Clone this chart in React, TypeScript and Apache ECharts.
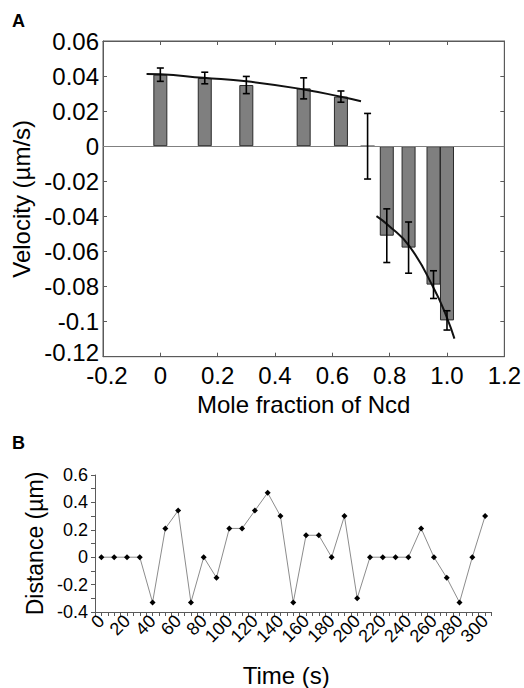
import React, { useEffect, useRef } from "react";
import * as echarts from "echarts";

// Panel A data
const moleFraction = [0, 0.155, 0.3, 0.5, 0.63, 0.723, 0.79, 0.866, 0.953, 1.0];
const velocity = [0.0408, 0.0389, 0.0349, 0.033, 0.0283, 0, -0.051, -0.0578, -0.0789, -0.0993];
const velocityErr = [0.0038, 0.0033, 0.0049, 0.006, 0.0032, 0.0187, 0.0153, 0.0146, 0.0079, 0.0055];
const fitLowX = [-0.048, 0, 0.15, 0.3, 0.5, 0.63, 0.7];
const fitLowY = [0.0412, 0.041, 0.039, 0.037, 0.0324, 0.0282, 0.0257];
const fitHighX = [0.754, 0.795, 0.87, 0.956, 1.0, 1.026];
const fitHighY = [-0.0398, -0.045, -0.0572, -0.0817, -0.0978, -0.1097];

// Panel B data
const times = [0, 10, 20, 30, 40, 50, 60, 70, 80, 90, 100, 110, 120, 130, 140, 150, 160, 170, 180, 190, 200, 210, 220, 230, 240, 250, 260, 270, 280, 290, 300];
const distance = [0, 0, 0, 0, -0.33, 0.21, 0.34, -0.33, 0, -0.15, 0.21, 0.21, 0.34, 0.47, 0.3, -0.33, 0.16, 0.16, 0, 0.3, -0.3, 0, 0, 0, 0, 0.21, 0, -0.15, -0.33, 0, 0.3];

const FONT = "'Liberation Sans', Arial, sans-serif";
const AXIS_COLOR = "#5a5a5a";

export default function App() {
  const ref = useRef<HTMLDivElement>(null);
  useEffect(() => {
    if (!ref.current) return;
    const chart = echarts.init(ref.current, undefined, { renderer: "svg" });
    const barData = moleFraction.map((x, i) => [x, velocity[i]]);
    const errData = moleFraction.map((x, i) => [x, velocity[i], velocityErr[i]]);
    const fitLow = fitLowX.map((x, i) => [x, fitLowY[i]]);
    const fitHigh = fitHighX.map((x, i) => [x, fitHighY[i]]);
    const lineData = times.map((t, i) => [t, distance[i]]);

    const axisLineA = { show: true, onZero: false, lineStyle: { color: AXIS_COLOR, width: 1 } };
    const tickA = { show: true, inside: true, length: 4, lineStyle: { color: AXIS_COLOR } };

    chart.setOption({
      animation: false,
      textStyle: { fontFamily: FONT },
      grid: [
        { left: 103, top: 41, width: 404, height: 315.7, show: true, borderColor: AXIS_COLOR, borderWidth: 1 },
        { left: 95, top: 475, width: 396.5, height: 137.7 },
      ],
      graphic: [
        { type: "text", left: 12, top: 12, style: { text: "A", font: `bold 18px ${FONT}`, fill: "#000" } },
        { type: "text", left: 12, top: 434, style: { text: "B", font: `bold 18px ${FONT}`, fill: "#000" } },
      ],
      xAxis: [
        {
          type: "value", gridIndex: 0, min: -0.2, max: 1.2, interval: 0.2,
          axisLine: axisLineA, axisTick: tickA, splitLine: { show: false },
          axisLabel: {
            color: "#000", fontSize: 24, fontFamily: FONT, margin: 7,
            formatter: (v: number) => {
              if (Math.abs(v) < 1e-9) return "0";
              if (v < 0) return "{l|" + v.toFixed(1) + "}";
              return v.toFixed(1);
            },
            rich: { l: { fontSize: 24, fontFamily: FONT, color: "#000", padding: [0, 0, 0, 8] } },
          },
          name: "Mole fraction of Ncd", nameLocation: "middle", nameGap: 36,
          nameTextStyle: { color: "#000", fontSize: 24, fontFamily: FONT },
        },
        {
          type: "value", gridIndex: 0, position: "top", min: -0.2, max: 1.2, interval: 0.2,
          axisLine: axisLineA, axisTick: tickA, axisLabel: { show: false }, splitLine: { show: false },
        },
        {
          type: "value", gridIndex: 1, min: -5, max: 305, interval: 5,
          axisLine: { show: true, onZero: false, lineStyle: { color: AXIS_COLOR } },
          axisTick: { show: true, length: 4, lineStyle: { color: AXIS_COLOR } },
          splitLine: { show: false },
          axisLabel: {
            color: "#000", fontSize: 18, fontFamily: FONT, rotate: 45, margin: 6,
            showMinLabel: true, showMaxLabel: true,
            formatter: (v: number) => {
              const r = Math.round(v);
              return r >= 0 && r % 20 === 0 ? String(r) : "";
            },
          },
          name: "Time (s)", nameLocation: "middle", nameGap: 51,
          nameTextStyle: { color: "#000", fontSize: 24, fontFamily: FONT, padding: [0, 14, 0, 0] },
        },
      ],
      yAxis: [
        {
          type: "value", gridIndex: 0, min: -0.12, max: 0.06, interval: 0.02,
          axisLine: axisLineA, axisTick: tickA, splitLine: { show: false },
          axisLabel: {
            color: "#000", fontSize: 24, fontFamily: FONT, margin: 4,
            formatter: (v: number) => (v < -0.115 ? "{m|" + v + "}" : String(v)),
            rich: { m: { fontSize: 24, fontFamily: FONT, color: "#000", padding: [0, 0, 8, 0] } },
          },
          name: "Velocity (µm/s)", nameLocation: "middle", nameGap: 68,
          nameTextStyle: { color: "#000", fontSize: 24, fontFamily: FONT },
        },
        {
          type: "value", gridIndex: 0, position: "right", min: -0.12, max: 0.06, interval: 0.02,
          axisLine: axisLineA, axisTick: tickA, axisLabel: { show: false }, splitLine: { show: false },
        },
        {
          type: "value", gridIndex: 1, min: -0.4, max: 0.6, interval: 0.2,
          axisLine: { show: true, onZero: false, lineStyle: { color: AXIS_COLOR } },
          axisTick: { show: true, length: 4, lineStyle: { color: AXIS_COLOR } },
          minorTick: { show: true, splitNumber: 2, length: 4, lineStyle: { color: AXIS_COLOR } },
          splitLine: { show: false },
          axisLabel: { color: "#000", fontSize: 18, fontFamily: FONT, margin: 7 },
          name: "Distance (µm)", nameLocation: "middle", nameGap: 48,
          nameTextStyle: { color: "#000", fontSize: 23, fontFamily: FONT },
        },
      ],
      series: [
        {
          type: "bar", xAxisIndex: 0, yAxisIndex: 0, data: barData, barWidth: 14,
          itemStyle: { color: "#7f7f7f", borderColor: "#2a2a2a", borderWidth: 1 },
          markLine: {
            silent: true, symbol: "none", label: { show: false },
            lineStyle: { color: "#808080", width: 1, type: "solid" },
            data: [{ yAxis: 0 }],
          },
        },
        {
          type: "line", xAxisIndex: 0, yAxisIndex: 0, data: fitLow, smooth: true,
          showSymbol: false, symbol: "none", lineStyle: { color: "#111", width: 2 },
        },
        {
          type: "line", xAxisIndex: 0, yAxisIndex: 0, data: fitHigh, smooth: true,
          showSymbol: false, symbol: "none", lineStyle: { color: "#111", width: 2 },
        },
        {
          type: "custom", xAxisIndex: 0, yAxisIndex: 0, data: errData, z: 5,
          renderItem: (params: any, api: any) => {
            const x = api.value(0);
            const y = api.value(1);
            const e = api.value(2);
            const top = api.coord([x, y + e]);
            const bot = api.coord([x, y - e]);
            const hw = 3.5;
            const style = { stroke: "#000", lineWidth: 1.6 };
            return {
              type: "group",
              children: [
                { type: "line", shape: { x1: top[0], y1: top[1], x2: bot[0], y2: bot[1] }, style },
                { type: "line", shape: { x1: top[0] - hw, y1: top[1], x2: top[0] + hw, y2: top[1] }, style },
                { type: "line", shape: { x1: bot[0] - hw, y1: bot[1], x2: bot[0] + hw, y2: bot[1] }, style },
              ],
            };
          },
        },
        {
          type: "line", xAxisIndex: 2, yAxisIndex: 2, data: lineData,
          symbol: "diamond", symbolSize: 6, showSymbol: true,
          lineStyle: { color: "#8c8c8c", width: 1 },
          itemStyle: { color: "#000" },
        },
      ],
    });
    return () => chart.dispose();
  }, []);
  return (
    <div
      ref={ref}
      style={{ position: "fixed", left: 0, top: 0, width: 524, height: 688, background: "#fff" }}
    />
  );
}
